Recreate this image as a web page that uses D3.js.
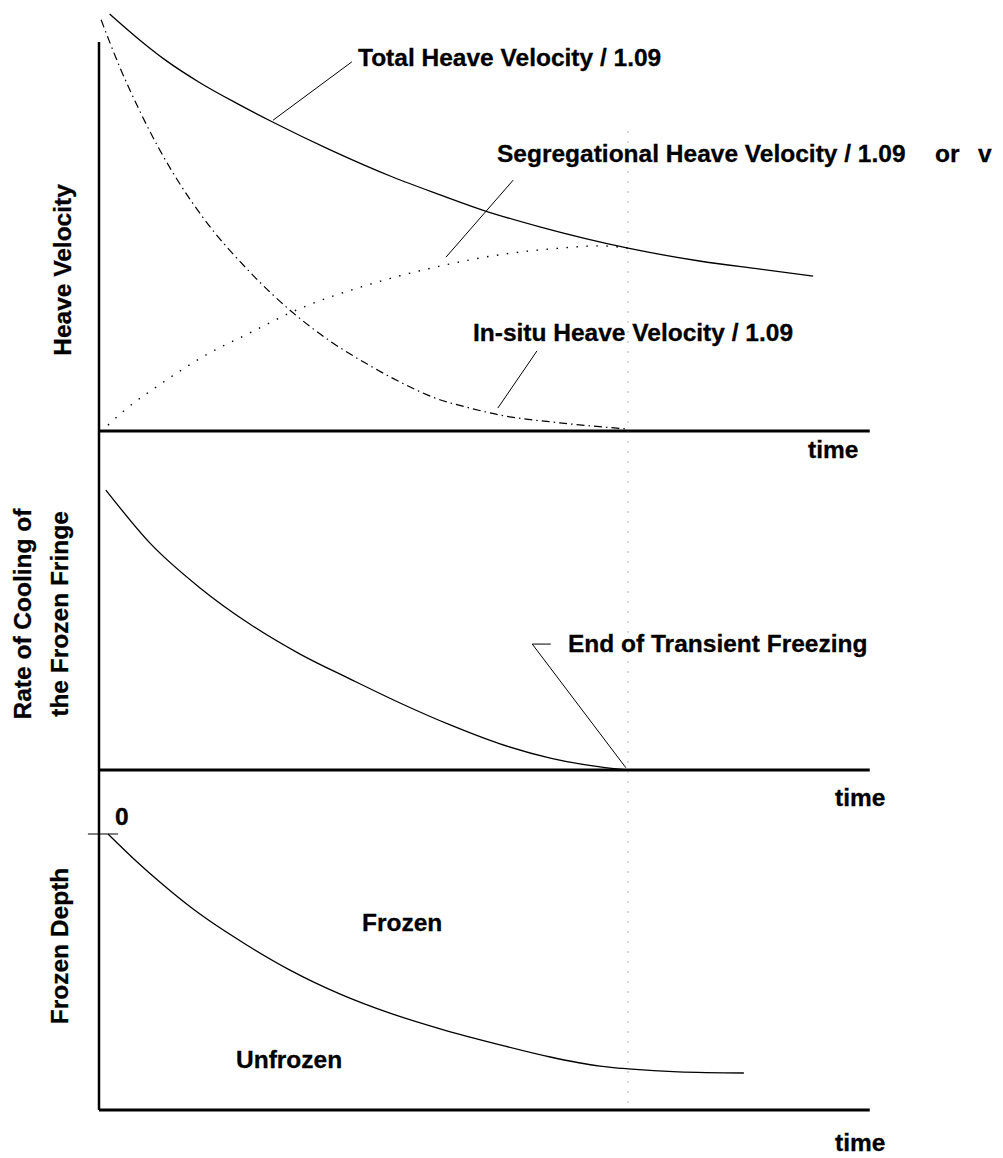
<!DOCTYPE html>
<html>
<head>
<meta charset="utf-8">
<script src="https://cdn.jsdelivr.net/npm/d3@7"></script>
<style>
  body { margin: 0; background: #fff; }
  text { font-family: "Liberation Sans", Arial, Helvetica, sans-serif; font-weight: bold; font-size: 24.5px; fill: #000; stroke: #000; stroke-width: 0.3px; }
</style>
</head>
<body>
<div id="chart"></div>
<script>
// time is in % of the transient freezing period (100 = end of transient freezing)
var timeMax = 145.7;

// top panel: heave velocity (arbitrary %)
var totalTime  = [2, 7, 12.5, 19, 26.5, 33, 43.5, 55.5, 64.5, 72.5, 83.5, 100, 113.5, 125, 135];
var totalHeave = [107.2, 101.3, 95.4, 89.6, 83.9, 79.3, 72.4, 65.3, 60.7, 56.8, 52.4, 47.0, 43.7, 41.6, 39.8];

var segTime  = [1.7, 4.9, 11.9, 19.5, 28.5, 36.5, 50.7, 64.5, 74.3, 87.1, 94.7, 100];
var segHeave = [1.5, 5.4, 12.3, 19.0, 25.2, 30.6, 37.5, 42.4, 45.0, 47.0, 47.6, 47.0];

var insituTime  = [0.4, 4.0, 7.8, 11.5, 15.3, 19.7, 28.5, 36.5, 43.7, 50.7, 56.9, 63.1, 70.1, 75.8, 87.1, 100];
var insituHeave = [105.7, 93.3, 82.0, 72.2, 63.5, 54.8, 40.9, 30.6, 23.1, 17.2, 12.6, 8.7, 5.9, 4.1, 2.1, 0.5];

// middle panel: rate of cooling of the frozen fringe
var rateTime = [1.3, 9.6, 19.1, 28.5, 38.0, 47.5, 56.9, 66.4, 75.8, 85.3, 94.7, 100];
var rateCool = [100.7, 81.7, 65.5, 52.5, 41.7, 32.7, 24.1, 16.2, 9.4, 4.3, 1.1, 0];

// bottom panel: frozen depth (downwards)
var depthTime = [1.7, 6.8, 11.5, 17.8, 28.0, 36.1, 45.6, 55.0, 64.5, 75.8, 85.3, 94.7, 100, 109.5, 121.9];
var depthVal  = [0, 9.4, 17.4, 27.2, 40.3, 49.3, 58.0, 64.9, 70.6, 76.4, 80.8, 84.1, 85.1, 86.2, 86.6];

var svg = d3.select("#chart")
  .append("svg")
  .attr("width", 1003)
  .attr("height", 1158);

var x = d3.scaleLinear().domain([0, 100]).range([99, 628]);
var yHeave = d3.scaleLinear().domain([0, 100]).range([431, 42]);
var yRate = d3.scaleLinear().domain([0, 100]).range([770, 492]);
var yDepth = d3.scaleLinear().domain([0, 100]).range([834, 1110]);

function pts(ts, vs) {
  return ts.map(function(t, i) { return [t, vs[i]]; });
}

function curve(y) {
  return d3.line()
    .x(function(d) { return x(d[0]); })
    .y(function(d) { return y(d[1]); })
    .curve(d3.curveMonotoneX);
}

function straight(y) {
  return d3.line()
    .x(function(d) { return x(d[0]); })
    .y(function(d) { return y(d[1]); });
}

// axes
svg.append("line")
  .attr("x1", x(0)).attr("x2", x(0))
  .attr("y1", yHeave(100)).attr("y2", yDepth(100))
  .attr("stroke", "#000").attr("stroke-width", 2.5);

[[yHeave, 0], [yRate, 0], [yDepth, 100]].forEach(function(a) {
  svg.append("line")
    .attr("x1", x(0)).attr("x2", x(timeMax))
    .attr("y1", a[0](a[1])).attr("y2", a[0](a[1]))
    .attr("stroke", "#000").attr("stroke-width", 3);
});

// end of transient freezing marker
svg.append("line")
  .attr("x1", x(100)).attr("x2", x(100))
  .attr("y1", yHeave(77)).attr("y2", yDepth(99))
  .attr("stroke", "#666").attr("stroke-width", 1)
  .attr("stroke-dasharray", "1,9");

// curves
svg.append("path")
  .attr("d", curve(yHeave)(pts(totalTime, totalHeave)))
  .attr("fill", "none").attr("stroke", "#000").attr("stroke-width", 1.3);

svg.append("path")
  .attr("d", curve(yHeave)(pts(segTime, segHeave)))
  .attr("fill", "none").attr("stroke", "#000").attr("stroke-width", 1.4)
  .attr("stroke-dasharray", "1.5,8.5");

svg.append("path")
  .attr("d", curve(yHeave)(pts(insituTime, insituHeave)))
  .attr("fill", "none").attr("stroke", "#000").attr("stroke-width", 1.2)
  .attr("stroke-dasharray", "8,4,1.5,4");

svg.append("path")
  .attr("d", curve(yRate)(pts(rateTime, rateCool)))
  .attr("fill", "none").attr("stroke", "#000").attr("stroke-width", 1.3);

svg.append("path")
  .attr("d", curve(yDepth)(pts(depthTime, depthVal)))
  .attr("fill", "none").attr("stroke", "#000").attr("stroke-width", 1.3);

// leaders
var leaders = [
  [yHeave, [[32.9, 79.9], [47.8, 94.9]]],
  [yHeave, [[65.6, 44.7], [78.3, 64.5]]],
  [yHeave, [[75.4, 5.9], [82.8, 20.6]]],
  [yRate, [[99.6, 0.8], [81.9, 45.3], [85.4, 45.3]]],
  [yDepth, [[-2.1, 0], [3.6, 0]]]
];
leaders.forEach(function(l) {
  svg.append("path")
    .attr("d", straight(l[0])(l[1]))
    .attr("fill", "none").attr("stroke", "#000").attr("stroke-width", 1);
});

// text
var labels = [
  ["Total Heave Velocity / 1.09", 358, 66],
  ["Segregational Heave Velocity / 1.09", 497, 162],
  ["or", 935, 162],
  ["v", 978, 162],
  ["In-situ Heave Velocity / 1.09", 473, 341],
  ["time", 808, 458],
  ["End of Transient Freezing", 568, 652],
  ["time", 835, 806],
  ["0", 115, 825],
  ["Frozen", 362, 931],
  ["Unfrozen", 236, 1068],
  ["time", 835, 1151]
];
svg.selectAll("text.lab")
  .data(labels)
  .enter()
  .append("text")
  .attr("class", "lab")
  .attr("x", function(d) { return d[1]; })
  .attr("y", function(d) { return d[2]; })
  .text(function(d) { return d[0]; });

var yLabels = [
  ["Heave Velocity", 71, 270],
  ["Rate of Cooling of", 31, 614],
  ["the Frozen Fringe", 68, 614],
  ["Frozen Depth", 68, 946]
];
svg.selectAll("text.ylab")
  .data(yLabels)
  .enter()
  .append("text")
  .attr("class", "ylab")
  .attr("text-anchor", "middle")
  .attr("transform", function(d) { return "translate(" + d[1] + "," + d[2] + ") rotate(-90)"; })
  .text(function(d) { return d[0]; });
</script>
</body>
</html>
